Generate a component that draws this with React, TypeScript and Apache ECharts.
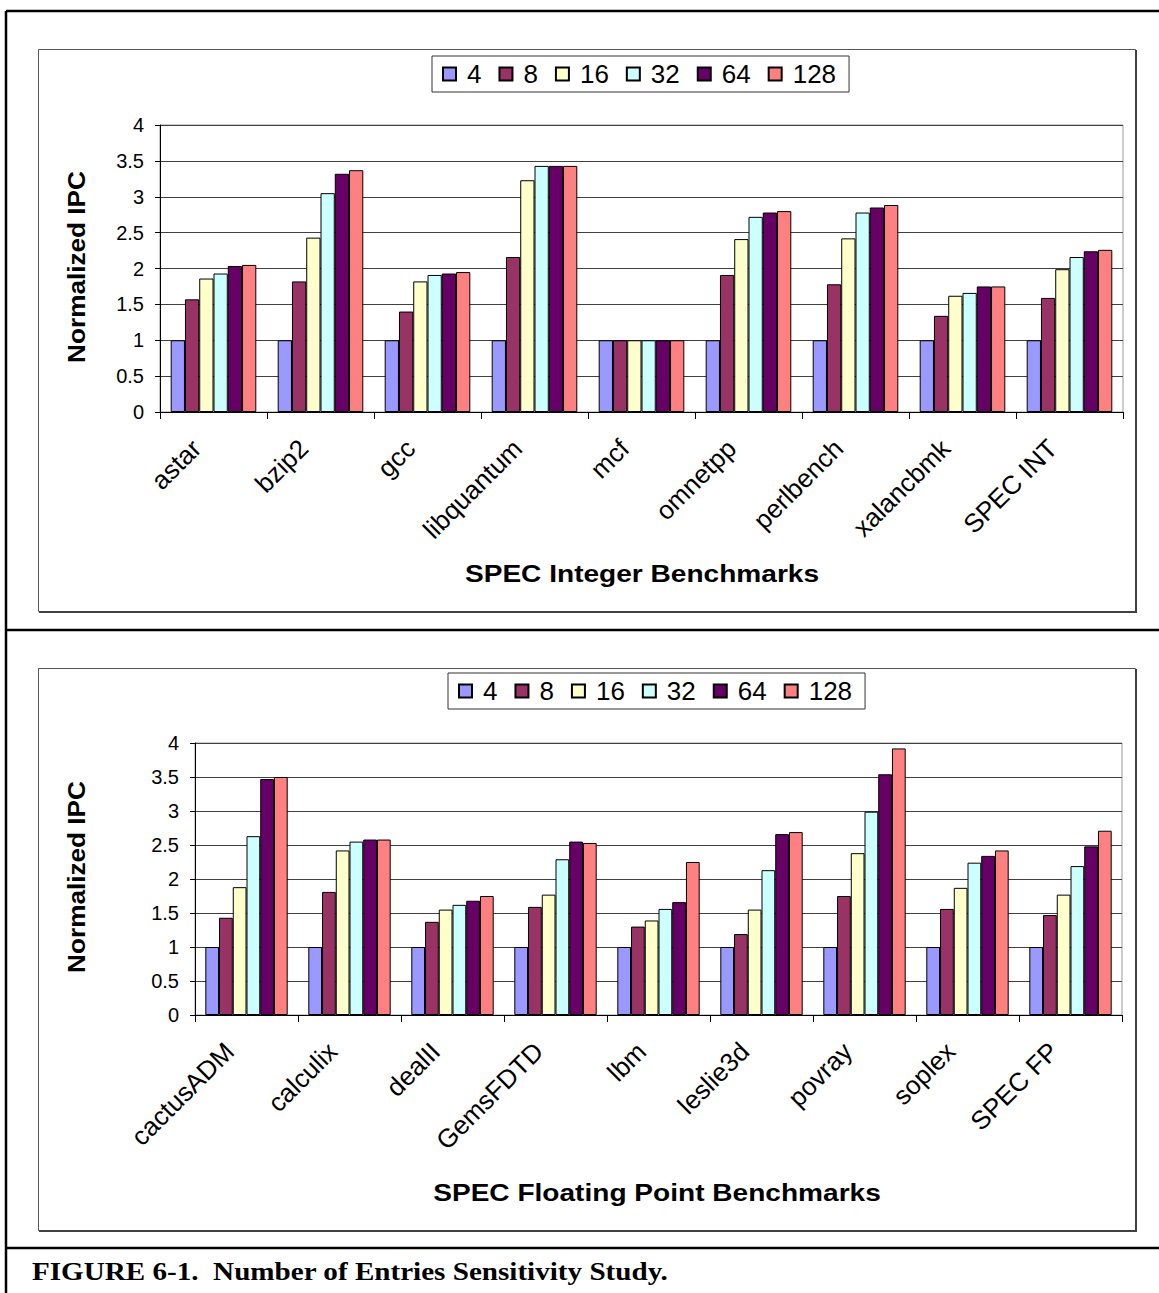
import React, { useEffect, useRef } from "react";
import * as echarts from "echarts";

const seriesNames = ["4", "8", "16", "32", "64", "128"];
const seriesColors = ["#9999FF", "#993366", "#FFFFCC", "#CCFFFF", "#660066", "#FF8080"];

const intCategories = ["astar", "bzip2", "gcc", "libquantum", "mcf", "omnetpp", "perlbench", "xalancbmk", "SPEC INT"];
const int4 = [1, 1, 1, 1, 1, 1, 1, 1, 1];
const int8 = [1.57, 1.82, 1.4, 2.16, 1, 1.91, 1.78, 1.34, 1.59];
const int16 = [1.86, 2.43, 1.82, 3.23, 1, 2.41, 2.42, 1.62, 1.99];
const int32 = [1.93, 3.05, 1.91, 3.43, 1, 2.72, 2.78, 1.66, 2.16];
const int64 = [2.035, 3.32, 1.93, 3.43, 1, 2.78, 2.85, 1.75, 2.24];
const int128 = [2.05, 3.37, 1.95, 3.43, 1, 2.8, 2.885, 1.75, 2.26];

const fpCategories = ["cactusADM", "calculix", "dealII", "GemsFDTD", "lbm", "leslie3d", "povray", "soplex", "SPEC FP"];
const fp4 = [1, 1, 1, 1, 1, 1, 1, 1, 1];
const fp8 = [1.43, 1.81, 1.37, 1.59, 1.3, 1.19, 1.75, 1.56, 1.47];
const fp16 = [1.88, 2.42, 1.55, 1.77, 1.39, 1.55, 2.38, 1.87, 1.77];
const fp32 = [2.63, 2.55, 1.62, 2.29, 1.56, 2.13, 2.99, 2.24, 2.19];
const fp64 = [3.47, 2.58, 1.68, 2.55, 1.66, 2.66, 3.54, 2.34, 2.48];
const fp128 = [3.5, 2.58, 1.75, 2.53, 2.25, 2.69, 3.92, 2.42, 2.71];

const yTicks = { min: 0, max: 4, interval: 0.5 };

const intSeries = [int4, int8, int16, int32, int64, int128];
const fpSeries = [fp4, fp8, fp16, fp32, fp64, fp128];

const SANS = '"Liberation Sans", Arial, sans-serif';
const SERIF = '"Liberation Serif", "Times New Roman", serif';

export default function App() {
  const ref = useRef<HTMLDivElement>(null);
  useEffect(() => {
    if (!ref.current) return;
    const chart = echarts.init(ref.current, null, { renderer: "svg" });

    const grids = [
      { left: 160, top: 125, width: 963, height: 287 },
      { left: 195, top: 743, width: 927, height: 272 },
    ];

    const xAxes = [intCategories, fpCategories].map((cats, i) => ({
      type: "category",
      gridIndex: i,
      data: cats,
      axisLine: { lineStyle: { color: "#000", width: 1 } },
      axisTick: { show: true, length: 7, lineStyle: { color: "#000" } },
      axisLabel: {
        rotate: 45,
        interval: 0,
        fontSize: 26,
        fontFamily: SANS,
        color: "#000",
        margin: 15,
        padding: [0, 24, 0, 0],
      },
      splitLine: { show: false },
    }));

    const yAxes = [0, 1].map((i) => ({
      type: "value",
      gridIndex: i,
      min: yTicks.min,
      max: yTicks.max,
      interval: yTicks.interval,
      axisLine: { show: true, lineStyle: { color: "#000", width: 1 } },
      axisTick: { show: true, length: 5, inside: false, lineStyle: { color: "#000" } },
      axisLabel: { fontSize: 20, fontFamily: SANS, color: "#000", margin: 16 },
      splitLine: { show: true, lineStyle: { color: "#404040", width: 1 } },
    }));

    const series: any[] = [];
    [intSeries, fpSeries].forEach((group, gi) => {
      group.forEach((vals, si) => {
        series.push({
          type: "bar",
          name: seriesNames[si],
          xAxisIndex: gi,
          yAxisIndex: gi,
          data: vals,
          barGap: "0%",
          barCategoryGap: "20%",
          itemStyle: { color: seriesColors[si], borderColor: "#000", borderWidth: 1 },
        });
      });
    });

    const legendBase = {
      orient: "horizontal",
      data: seriesNames,
      icon: "rect",
      itemWidth: 13,
      itemHeight: 13,
      itemGap: 17,
      borderColor: "#333",
      borderWidth: 1,
      padding: [5, 13, 5, 10],
      selectedMode: false,
      textStyle: { fontSize: 26, fontFamily: SANS, color: "#000", padding: [0, 0, 0, 6] },
    };

    const lines = (x1: number, y1: number, x2: number, y2: number, w: number, c: string) => ({
      type: "line",
      shape: { x1, y1, x2, y2 },
      style: { stroke: c, lineWidth: w },
      silent: true,
    });

    const txt = (text: string, x: number, y: number, font: string, sx = 1, rot = 0, align = "center") => ({
      type: "text",
      x,
      y,
      rotation: rot,
      scaleX: sx,
      style: {
        text,
        font,
        fill: "#000",
        textAlign: align,
        textVerticalAlign: "middle",
        align,
        verticalAlign: "middle",
      },
      silent: true,
    });

    const graphic: any[] = [
      // outer frame
      lines(6, 11, 1159, 11, 2.5, "#000"),
      lines(6, 11, 6, 1293, 2.5, "#000"),
      lines(6, 630, 1159, 630, 2.5, "#000"),
      lines(6, 1248, 1159, 1248, 2.5, "#000"),
      // chart boxes
      { type: "rect", shape: { x: 38.5, y: 49.5, width: 1097, height: 562 }, style: { fill: "none", stroke: "#555", lineWidth: 1 }, silent: true },
      lines(1136, 50, 1136, 612, 2, "#404040"),
      lines(39, 612, 1137, 612, 2, "#404040"),
      { type: "rect", shape: { x: 38.5, y: 668.5, width: 1097, height: 562 }, style: { fill: "none", stroke: "#555", lineWidth: 1 }, silent: true },
      lines(1136, 669, 1136, 1231, 2, "#404040"),
      lines(39, 1231, 1137, 1231, 2, "#404040"),
      // axis names
      txt("SPEC Integer Benchmarks", 642, 574, `bold 24px ${SANS}`, 1.17),
      txt("SPEC Floating Point Benchmarks", 657, 1193, `bold 24px ${SANS}`, 1.17),
      txt("Normalized IPC", 76, 267, `bold 24px ${SANS}`, 1.09, Math.PI / 2),
      txt("Normalized IPC", 76, 877, `bold 24px ${SANS}`, 1.09, Math.PI / 2),
      // caption
      txt("FIGURE 6-1.  Number of Entries Sensitivity Study.", 32, 1271, `bold 26px ${SERIF}`, 1.12, 0, "left"),
    ];

    chart.setOption({
      animation: false,
      backgroundColor: "#fff",
      grid: grids.map((g) => ({ ...g, show: true, borderColor: "#999", borderWidth: 1, backgroundColor: "transparent" })),
      xAxis: xAxes,
      yAxis: yAxes,
      legend: [
        { ...legendBase, left: 432, top: 56 },
        { ...legendBase, left: 448, top: 673 },
      ],
      series,
      graphic,
    } as any);

    return () => chart.dispose();
  }, []);

  return (
    <div
      ref={ref}
      style={{ position: "absolute", left: 0, top: 0, width: 1159, height: 1293 }}
    />
  );
}
